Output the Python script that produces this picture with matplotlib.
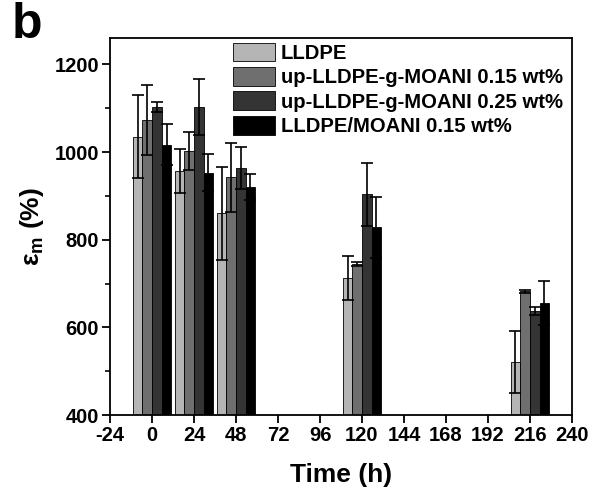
import numpy as np
import matplotlib
matplotlib.use("Agg")
import matplotlib.pyplot as plt
from matplotlib.ticker import MultipleLocator

plt.rcParams['font.family'] = ['Liberation Sans', 'DejaVu Sans']
plt.rcParams['font.weight'] = 'bold'
plt.rcParams['mathtext.fontset'] = 'custom'
plt.rcParams['mathtext.rm'] = 'Liberation Sans:bold'
plt.rcParams['mathtext.it'] = 'Liberation Sans:bold'
plt.rcParams['mathtext.bf'] = 'Liberation Sans:bold'

times = [0, 24, 48, 120, 216]
series = ['LLDPE', 'up-LLDPE-g-MOANI 0.15 wt%', 'up-LLDPE-g-MOANI 0.25 wt%', 'LLDPE/MOANI 0.15 wt%']
lldpe = [1035, 956, 860, 713, 521]
lldpe_err = [95, 50, 107, 50, 70]
up015 = [1074, 1003, 942, 745, 682]
up015_err = [80, 43, 78, 5, 4]
up025 = [1103, 1103, 963, 904, 638]
up025_err = [12, 63, 48, 72, 9]
mix015 = [1017, 953, 920, 828, 655]
mix015_err = [47, 42, 30, 70, 50]
colors = ['#b5b5b5', '#6f6f6f', '#343434', '#000000']
xticks = [-24, 0, 24, 48, 72, 96, 120, 144, 168, 192, 216, 240]

values = [lldpe, up015, up025, mix015]
errors = [lldpe_err, up015_err, up025_err, mix015_err]

fig = plt.figure(figsize=(5.92, 4.92), dpi=100)
ax = fig.add_axes([0.186, 0.1565, 0.780, 0.766])

w = 5.5
t = np.array(times, dtype=float)
for i, (v, e, c, lab) in enumerate(zip(values, errors, colors, series)):
    x = t + (i - 1.5) * w
    ax.bar(x, v, width=w, color=c, edgecolor='black', linewidth=0.6, label=lab,
           yerr=e, capsize=4, error_kw=dict(ecolor='black', elinewidth=1.2, capthick=1.2),
           zorder=2)

ax.set_xlim(-24, 240)
ax.set_ylim(400, 1260)
ax.set_xticks(xticks)
ax.set_xticklabels([str(v) for v in xticks])
ax.yaxis.set_major_locator(MultipleLocator(200))
ax.yaxis.set_minor_locator(MultipleLocator(100))
ax.tick_params(axis='both', which='major', direction='out', length=6, width=1.3, labelsize=14.5, pad=2)
ax.tick_params(axis='y', which='minor', direction='out', length=3.5, width=1.2)
ax.tick_params(axis='x', which='minor', bottom=False)
for sp in ax.spines.values():
    sp.set_linewidth(1.3)

ax.set_xlabel('Time (h)', fontsize=19, fontweight='bold', labelpad=13)
ax.set_ylabel('ε$_{\\mathregular{m}}$ (%)', fontsize=19, fontweight='bold', labelpad=6)

leg = ax.legend(loc='upper left', bbox_to_anchor=(0.266, 0.988), frameon=False,
                borderaxespad=0, borderpad=0, fontsize=14.6, handlelength=2.05,
                handleheight=1.05, labelspacing=0.2, handletextpad=0.3)

fig.text(0.02, 0.995, 'b', fontsize=36, fontweight='bold', va='top', ha='left')

fig.savefig('out.png', dpi=100)
